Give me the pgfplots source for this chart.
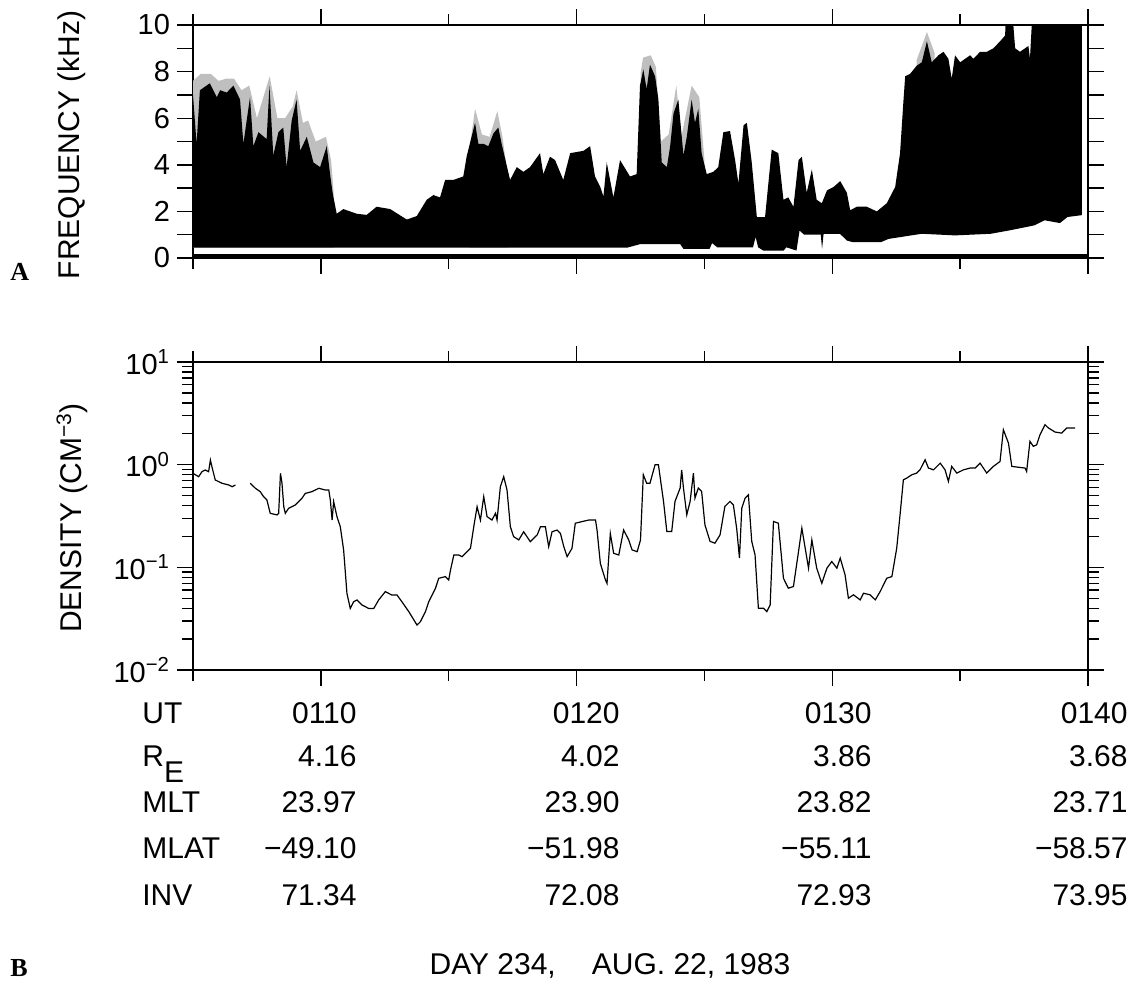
\documentclass[border=0pt]{standalone}
\usepackage{pgfplots}
\pgfplotsset{compat=1.18}
\usepackage{fontspec}
\setmainfont{Liberation Sans}
\newfontfamily\serifb{Liberation Serif}
\newcommand{\tl}{\fontsize{15}{15}\selectfont}
\begin{document}
\begin{tikzpicture}[x=1pt,y=1pt]
\coordinate (pA) at (96.5,-129);
\coordinate (pB) at (96.5,-335);
\pgfplotsset{
  every axis/.append style={
    scale only axis, width=447.5pt,
    xmin=5, xmax=40,
    tick align=outside,
    major tick length=8pt, minor tick length=5.5pt,
    axis line style={line width=0.7pt},
    tick style={black, line width=0.7pt},
    xtick={10,20,30,40}, minor xtick={5,15,25,35}, xticklabels={},
    yticklabel style={font=\fontsize{14.5}{14.5}\selectfont},
  }
}
% ---------- top: frequency ----------
\begin{axis}[at={(pA)}, anchor=south west, height=116.5pt,
  ymin=0, ymax=10, ytick={0,1,...,10}, yticklabels={0,,2,,4,,6,,8,,10}]
% grey fringe of the spectrogram
\addplot[fill=gray!50, draw=none] coordinates {
(5,0.45) (5,7.6) (5.3,7.9) (5.7,7.9) (6.0,7.6) (6.3,7.7) (6.6,7.7) (6.9,7.2) (7.2,7.4) (7.5,6.0)
(8.0,7.8) (8.3,6.0) (8.6,6.0) (8.9,6.5) (9.05,7.2) (9.3,5.8) (9.5,5.9) (9.8,5.0) (10.2,5.2) (10.4,4.2)
(10.5,2.8) (10.5,0.45)} -- cycle;
\addplot[fill=gray!50, draw=none] coordinates {
(15.8,0.45) (15.8,4.6) (16.03,6.4) (16.3,5.3) (16.6,5.2) (16.9,6.3) (17.1,5.2) (17.3,3.6) (17.3,0.45)} -- cycle;
\addplot[fill=gray!50, draw=none] coordinates {
(22.5,0.7) (22.5,7.9) (22.6,8.6) (22.9,8.7) (23.1,8.2) (23.3,5.0) (23.6,5.3) (23.9,7.4) (24.1,5.2)
(24.5,7.4) (24.8,6.9) (25.0,4.2) (25.0,0.7)} -- cycle;
\addplot[fill=gray!50, draw=none] coordinates {
(33.3,1.2) (33.3,8.5) (33.7,9.7) (34.0,8.8) (34.0,1.2)} -- cycle;
% black spectrogram band: upper edge left to right, lower edge right to left
\addplot[fill=black, draw=none] coordinates {
(5.0,7.0) (5.14,4.9) (5.27,7.2) (5.66,7.5) (5.93,6.9) (6.06,7.2) (6.32,7.1) (6.58,7.4)
(6.84,6.8) (6.97,4.9) (7.23,6.9) (7.36,4.8) (7.56,5.4) (7.88,5.1) (7.99,7.4) (8.14,4.4)
(8.34,5.4) (8.53,5.6) (8.66,3.9) (8.86,5.9) (9.05,6.8) (9.19,4.6) (9.45,5.2) (9.71,4.1)
(9.97,3.9) (10.23,4.8) (10.36,3.6) (10.46,2.8) (10.62,1.9) (10.88,2.1) (11.40,1.9) (11.79,1.85)
(12.18,2.2) (12.71,2.1) (13.36,1.65) (13.75,1.8) (14.14,2.5) (14.40,2.7) (14.66,2.6) (14.86,3.35)
(15.18,3.35) (15.57,3.5) (15.70,4.35) (16.03,5.8) (16.16,4.9) (16.36,4.9) (16.55,4.8) (16.75,5.35)
(16.94,5.6) (17.07,4.9) (17.40,3.35) (17.66,3.9) (17.92,3.7) (18.18,3.9) (18.57,4.5) (18.70,3.6)
(18.96,4.35) (19.16,4.2) (19.48,3.35) (19.75,4.5) (20.27,4.6) (20.53,4.8) (20.72,3.5) (20.92,3.07)
(21.05,2.64) (21.18,4.1) (21.44,2.6) (21.70,4.2) (22.09,3.5) (22.35,3.6) (22.48,7.4) (22.61,8.1)
(22.74,7.25) (22.87,8.3) (23.07,7.8) (23.20,6.8) (23.33,4.1) (23.53,3.9) (23.66,4.8) (23.79,6.2)
(23.98,6.8) (24.18,4.4) (24.31,5.2) (24.50,6.8) (24.63,5.8) (24.76,6.4) (24.89,4.5) (25.09,3.6)
(25.35,3.7) (25.54,3.9) (25.74,5.4) (26.00,5.45) (26.20,4.2) (26.33,3.2) (26.53,5.7) (26.66,5.8)
(26.85,4.1) (27.05,1.75) (27.37,1.75) (27.63,4.65) (27.89,4.5) (28.09,2.5) (28.28,2.6) (28.48,2.2)
(28.68,4.2) (28.81,4.35) (29.00,2.8) (29.20,3.8) (29.39,2.5) (29.59,2.35) (29.79,2.9) (30.05,3.05)
(30.31,3.3) (30.57,2.8) (30.70,2.05) (30.96,2.2) (31.35,2.2) (31.74,2.0) (32.13,2.35) (32.46,3.05)
(32.65,4.5) (32.78,6.7) (32.85,7.8) (33.04,7.9) (33.30,8.25) (33.50,8.4) (33.70,9.3) (33.89,8.4)
(34.15,8.7) (34.35,8.85) (34.54,8.55) (34.67,7.7) (34.80,8.7) (35.00,8.4) (35.39,8.7) (35.52,8.55)
(35.78,8.85) (36.04,8.85) (36.30,9.0) (36.56,9.3) (36.76,9.55) (36.77,10) (37.08,10) (37.15,9.0)
(37.34,8.85) (37.67,9.1) (37.73,8.55) (37.80,10) (39.76,10)
(39.76,1.84) (39.2,1.76) (38.9,1.5) (38.3,1.62) (37.9,1.4) (36.9,1.18) (36.2,1.04) (34.8,0.97)
(33.5,1.04) (32.2,0.82) (31.9,0.68) (30.8,0.68) (30.57,0.75) (30.3,1.04) (29.66,1.04) (29.6,0.39)
(29.55,1.0) (28.9,1.0) (28.72,1.18) (28.6,0.32) (28.2,0.46) (28.1,0.32) (27.3,0.32) (27.1,0.46)
(27.0,0.9) (26.9,0.46) (25.5,0.46) (25.3,0.64) (25.2,0.39) (24.18,0.39) (24.05,0.6) (22.5,0.6)
(22.0,0.45) (5.0,0.45)} -- cycle;
\addplot[black, line width=1.6pt] coordinates {(5,0.12) (40,0.12)};
\end{axis}
% ---------- bottom: density ----------
\begin{axis}[at={(pB)}, anchor=south west, height=154pt,
  ymode=log, ymin=0.01, ymax=10,
  ytick={0.01,0.1,1,10},
  yticklabels={10\textsuperscript{−2},10\textsuperscript{−1},10\textsuperscript{0},10\textsuperscript{1}},
  minor ytick={0.02,0.03,0.04,0.05,0.06,0.07,0.08,0.09,0.2,0.3,0.4,0.5,0.6,0.7,0.8,0.9,2,3,4,5,6,7,8,9}]
\addplot[black, line width=0.6pt] coordinates {
(5.0,0.824) (5.22,0.764) (5.35,0.855) (5.48,0.887) (5.61,0.855) (5.68,1.11) (5.74,0.955) (5.87,0.71)
(6.13,0.66) (6.40,0.634) (6.53,0.611) (6.66,0.634)};
\addplot[black, line width=0.6pt] coordinates {
(7.24,0.66) (7.44,0.589) (7.63,0.546) (7.76,0.488) (7.89,0.453) (8.02,0.336) (8.29,0.324) (8.35,0.336)
(8.42,0.824) (8.48,0.66) (8.55,0.389) (8.61,0.336) (8.74,0.376) (9.00,0.405) (9.26,0.47) (9.39,0.525)
(9.65,0.546) (9.92,0.589) (10.18,0.566) (10.31,0.566) (10.37,0.453) (10.44,0.289) (10.50,0.437) (10.63,0.312)
(10.76,0.249) (10.89,0.148) (11.02,0.0558) (11.15,0.0398) (11.28,0.0462) (11.41,0.0481) (11.61,0.043) (11.87,0.0398)
(12.07,0.0398) (12.26,0.0481) (12.52,0.058) (12.78,0.0537) (12.98,0.0537) (13.17,0.0462) (13.44,0.037) (13.76,0.0274)
(13.89,0.0295) (14.09,0.037) (14.22,0.0462) (14.48,0.0624) (14.61,0.0782) (14.87,0.0813) (15.00,0.0753) (15.07,0.0942)
(15.20,0.132) (15.39,0.132) (15.52,0.127) (15.65,0.137) (15.85,0.153) (15.98,0.249) (16.11,0.39) (16.24,0.289)
(16.37,0.488) (16.50,0.312) (16.69,0.289) (16.83,0.336) (16.89,0.289) (17.02,0.611) (17.15,0.764) (17.28,0.566)
(17.41,0.249) (17.54,0.199) (17.74,0.185) (17.93,0.222) (18.19,0.178) (18.46,0.207) (18.59,0.249) (18.78,0.249)
(18.91,0.159) (19.04,0.222) (19.24,0.231) (19.37,0.214) (19.50,0.159) (19.63,0.127) (19.82,0.153) (19.95,0.269)
(20.21,0.279) (20.48,0.289) (20.74,0.289) (20.80,0.231) (20.93,0.109) (21.13,0.0753) (21.19,0.0698) (21.32,0.214)
(21.45,0.137) (21.65,0.132) (21.84,0.231) (22.04,0.185) (22.17,0.148) (22.37,0.142) (22.50,0.185) (22.61,0.798)
(22.74,0.66) (22.87,0.66) (23.07,1.0) (23.20,1.0) (23.40,0.439) (23.53,0.223) (23.72,0.223) (23.85,0.439)
(24.05,0.592) (24.11,0.891) (24.18,0.592) (24.31,0.325) (24.44,0.439) (24.57,0.828) (24.63,0.472) (24.76,0.592)
(24.89,0.55) (25.02,0.259) (25.22,0.179) (25.41,0.172) (25.61,0.207) (25.80,0.392) (26.00,0.439) (26.13,0.407)
(26.26,0.241) (26.37,0.123) (26.46,0.377) (26.59,0.472) (26.72,0.509) (26.85,0.179) (26.98,0.132) (27.11,0.04)
(27.31,0.04) (27.44,0.0371) (27.57,0.043) (27.70,0.28) (27.89,0.269) (28.09,0.0783) (28.28,0.0627) (28.48,0.065)
(28.68,0.143) (28.81,0.241) (28.94,0.154) (29.07,0.0982) (29.20,0.185) (29.39,0.0982) (29.59,0.07) (29.79,0.0982)
(29.98,0.114) (30.18,0.0982) (30.31,0.123) (30.50,0.0845) (30.63,0.05) (30.83,0.054) (31.09,0.0482) (31.22,0.056)
(31.48,0.054) (31.68,0.0482) (31.87,0.058) (32.13,0.0783) (32.33,0.0813) (32.52,0.154) (32.65,0.325) (32.78,0.713)
(32.91,0.74) (33.11,0.798) (33.30,0.828) (33.43,0.891) (33.63,1.117) (33.76,0.927) (33.96,0.891) (34.22,1.035)
(34.41,0.891) (34.54,0.687) (34.67,0.962) (34.87,0.828) (35.13,0.891) (35.39,0.927) (35.59,0.927) (35.78,1.035)
(36.04,0.828) (36.30,0.962) (36.56,1.076) (36.69,2.19) (36.89,1.62) (37.02,0.962) (37.54,0.927) (37.60,0.859)
(37.73,1.69) (37.86,1.51) (37.99,1.56) (38.12,1.95) (38.32,2.45) (38.45,2.28) (38.71,2.08) (38.97,2.03)
(39.17,2.28) (39.50,2.28)};
\end{axis}
% ---------- axis titles ----------
\node[rotate=90, font=\tl] at (36,-72.5) {FREQUENCY (kHz)};
\node[rotate=90, font=\tl] at (36,-259) {DENSITY (CM\textsuperscript{−3})};
\node[anchor=base west, inner sep=0pt, font=\serifb\bfseries\fontsize{13}{13}\selectfont] at (5,-140) {A};
\node[anchor=base west, inner sep=0pt, font=\serifb\bfseries\fontsize{13}{13}\selectfont] at (5,-488) {B};
% ---------- ephemeris table ----------
\begin{scope}[every node/.style={font=\tl, inner sep=0pt}]
\node[anchor=base west] at (71,-361.5) {UT};
\node[anchor=base west] at (71,-383) {R\raisebox{-8pt}{E}};
\node[anchor=base west] at (71,-406) {MLT};
\node[anchor=base west] at (71,-429) {MLAT};
\node[anchor=base west] at (71,-452.5) {INV};
\foreach \xx/\a/\b/\c/\d/\e in {178.5/0110/4.16/23.97/−49.10/71.34, 310/0120/4.02/23.90/−51.98/72.08,
  436/0130/3.86/23.82/−55.11/72.93, 564/0140/3.68/23.71/−58.57/73.95}{
  \node[anchor=base east] at (\xx,-361.5) {\a};
  \node[anchor=base east] at (\xx,-383) {\b};
  \node[anchor=base east] at (\xx,-406) {\c};
  \node[anchor=base east] at (\xx,-429) {\d};
  \node[anchor=base east] at (\xx,-452.5) {\e};
}
\node[anchor=base] at (305,-487) {DAY 234,\hspace{1.2em}AUG. 22, 1983};
\end{scope}
\path (0,0) (569.5,-495.5);
\end{tikzpicture}
\end{document}
